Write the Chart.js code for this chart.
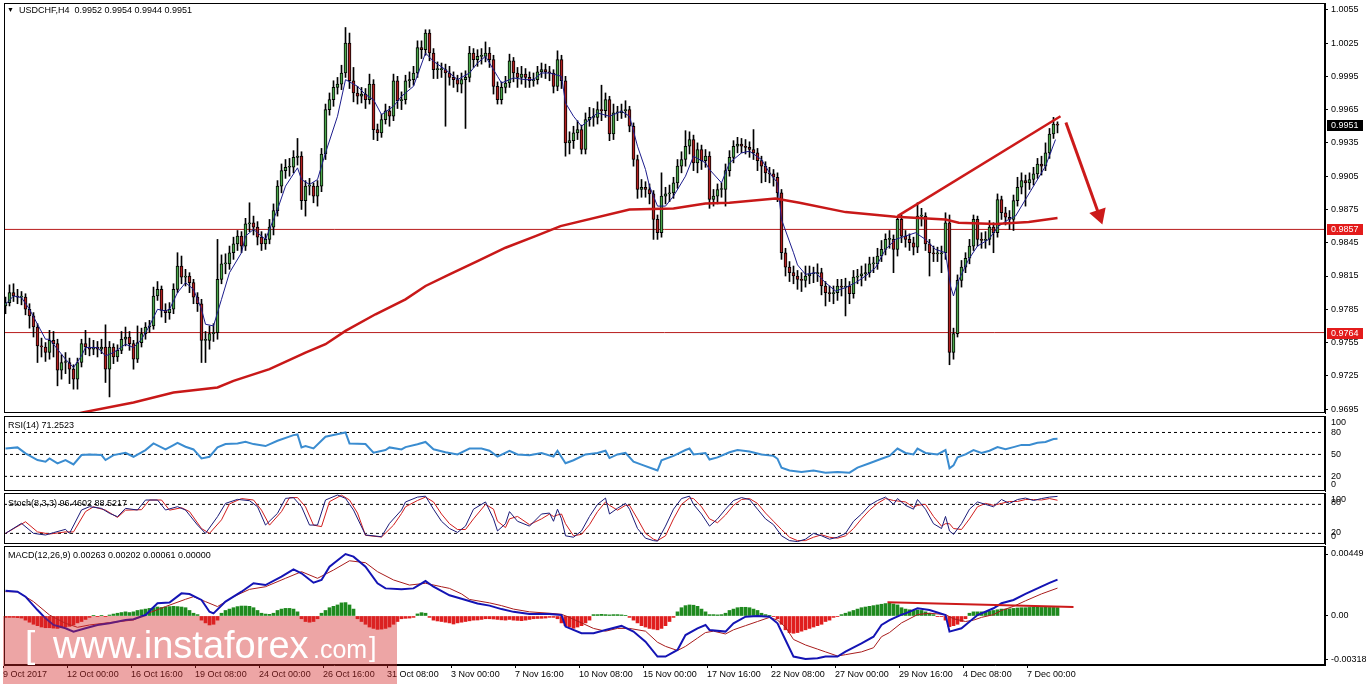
<!DOCTYPE html>
<html><head><meta charset="utf-8">
<script src="https://cdn.jsdelivr.net/npm/chart.js@4.4.1/dist/chart.umd.min.js"></script>
<style>
html,body{margin:0;padding:0;background:#fff}
body{position:relative;width:1366px;height:684px;overflow:hidden;font-family:'Liberation Sans',Arial,sans-serif}
canvas{position:absolute;left:0}
.t{position:absolute;left:8px;font-size:9px;line-height:11px;color:#000;white-space:pre}
#wm{position:absolute;left:3px;top:616px;width:394px;height:68px;background:rgba(212,40,40,0.42);overflow:hidden}
#wm span{position:absolute;color:#fff;line-height:1;white-space:pre;font-family:'Liberation Sans',Arial,sans-serif}
</style></head><body>
<canvas id="cMain" width="1366" height="414" style="top:0"></canvas>
<canvas id="cRsi" width="1366" height="78" style="top:414px"></canvas>
<canvas id="cSto" width="1366" height="53" style="top:492px"></canvas>
<canvas id="cMacd" width="1366" height="139" style="top:545px"></canvas>
<div class="t" style="top:4px;left:7px;font-size:7px">▼</div>
<div class="t" style="top:5px;left:19px">USDCHF,H4  0.9952 0.9954 0.9944 0.9951</div>
<div class="t" style="top:420px">RSI(14) 71.2523</div>
<div class="t" style="top:498px">Stoch(8,3,3) 96.4602 88.5217</div>
<div class="t" style="top:550px">MACD(12,26,9) 0.00263 0.00202 0.00061 0.00000</div>
<div id="wm">
<span style="left:22px;top:10px;font-size:37px">[</span>
<span style="left:50px;top:10px;font-size:38px">www.instaforex</span>
<span style="left:310px;top:21px;font-size:25px">.com</span>
<span style="left:366px;top:18px;font-size:27px">]</span>
</div>
<script>
// ---------------- DATA ----------------
const firstOpen = 0.9788;
const closes = [
.9791,.9800,.9797,.9796,.9796,.9785,.9779,.9769,.9752,.9751,
.9746,.9757,.9754,.9730,.9737,.9737,.9731,.9722,.9737,.9754,
.9751,.9749,.9751,.9749,.9751,.9731,.9751,.9742,.9748,.9758,
.9760,.9754,.9740,.9755,.9763,.9769,.9770,.9797,.9803,.9784,
.9782,.9785,.9803,.9824,.9814,.9815,.9809,.9796,.9790,.9757,
.9757,.9763,.9764,.9812,.9826,.9826,.9836,.9844,.9851,.9842,
.9862,.9863,.9859,.9850,.9844,.9848,.9859,.9874,.9896,.9910,
.9913,.9913,.9922,.9923,.9883,.9896,.9896,.9887,.9896,.9925,
.9965,.9974,.9985,.9988,.9998,1.0025,.9991,.9980,.9977,.9979,
.9974,.9988,.9947,.9944,.9956,.9964,.9959,.9991,.9973,.9974,
.9991,.9992,.9998,1.0021,1.0019,1.0034,1.0016,1.0001,1.0001,1.0001,
.9998,.9994,.9992,.9988,.9992,.9994,1.0016,1.0010,1.0013,1.0013,
1.0016,1.0010,.9986,.9974,.9985,.9989,1.0009,.9998,.9994,.9997,
.9994,.9991,.9992,.9999,1.0001,.9999,.9998,.9986,1.0010,.9991,
.9935,.9937,.9944,.9947,.9929,.9956,.9958,.9958,.9965,.9964,
.9974,.9943,.9962,.9962,.9964,.9965,.9950,.9920,.9893,.9895,
.9893,.9889,.9866,.9854,.9887,.9889,.9890,.9899,.9914,.9920,
.9932,.9938,.9917,.9929,.9919,.9923,.9884,.9887,.9893,.9893,
.9910,.9922,.9932,.9934,.9932,.9931,.9929,.9926,.9919,.9914,
.9908,.9907,.9904,.9890,.9836,.9823,.9818,.9815,.9812,.9811,
.9815,.9817,.9817,.9818,.9806,.9800,.9799,.9800,.9806,.9805,
.9806,.9799,.9814,.9815,.9817,.9818,.9826,.9826,.9833,.9839,
.9848,.9848,.9839,.9866,.9851,.9848,.9845,.9841,.9869,.9869,
.9844,.9836,.9835,.9835,.9836,.9863,.9746,.9763,.9811,.9823,
.9831,.9842,.9866,.9848,.9847,.9848,.9859,.9854,.9884,.9872,
.9868,.9866,.9883,.9895,.9901,.9899,.9902,.9907,.9916,.9914,
.9926,.9943,.9952,.9951];
const highs = [
.9796,.9807,.9808,.9803,.9801,.9799,.9790,.9782,.9772,.9759,
.9755,.9766,.9765,.9758,.9744,.9746,.9741,.9735,.9741,.9758,
.9766,.9759,.9757,.9756,.9758,.9771,.9756,.9754,.9753,.9765,
.9769,.9765,.9757,.9770,.9768,.9773,.9775,.9805,.9810,.9806,
.9790,.9791,.9808,.9836,.9833,.9821,.9818,.9812,.9800,.9794,
.9765,.9770,.9772,.9848,.9834,.9835,.9842,.9850,.9856,.9855,
.9867,.9881,.9869,.9864,.9855,.9853,.9866,.9880,.9901,.9916,
.9920,.9921,.9928,.9939,.9927,.9901,.9903,.9899,.9901,.9930,
.9970,.9980,.9991,.9994,1.0005,1.0039,1.0034,1.0003,.9986,.9985,
.9984,.9997,.9992,.9952,.9961,.9970,.9968,.9997,.9995,.9981,
.9996,.9999,1.0004,1.0027,1.0027,1.0037,1.0037,1.0020,1.0008,1.0007,
1.0006,1.0004,.9999,.9996,.9998,1.0000,1.0022,1.0020,1.0019,1.0020,
1.0026,1.0021,1.0014,.9990,.9990,.9995,1.0015,1.0012,1.0003,1.0004,
1.0002,.9999,.9998,1.0004,1.0007,1.0006,1.0004,1.0001,1.0018,1.0014,
.9995,.9945,.9950,.9955,.9951,.9962,.9967,.9966,.9972,.9987,
.9980,.9977,.9970,.9968,.9970,.9973,.9968,.9953,.9924,.9902,
.9900,.9898,.9892,.9870,.9908,.9895,.9897,.9904,.9920,.9927,
.9946,.9945,.9942,.9935,.9933,.9929,.9927,.9893,.9898,.9899,
.9916,.9928,.9937,.9940,.9939,.9938,.9936,.9947,.9930,.9923,
.9918,.9913,.9911,.9908,.9893,.9840,.9828,.9824,.9820,.9818,
.9824,.9824,.9823,.9826,.9822,.9810,.9806,.9806,.9812,.9812,
.9813,.9810,.9820,.9821,.9824,.9826,.9832,.9832,.9840,.9847,
.9853,.9856,.9852,.9869,.9870,.9856,.9853,.9850,.9881,.9876,
.9872,.9848,.9842,.9841,.9842,.9872,.9870,.9768,.9816,.9829,
.9836,.9848,.9870,.9869,.9854,.9855,.9865,.9863,.9889,.9887,
.9877,.9874,.9888,.9904,.9908,.9906,.9908,.9913,.9921,.9923,
.9935,.9948,.9958,.9954];
const lows = [
.9781,.9788,.9792,.9790,.9789,.9780,.9768,.9760,.9737,.9742,
.9738,.9740,.9742,.9716,.9722,.9727,.9718,.9713,.9713,.9733,
.9744,.9743,.9744,.9742,.9745,.9719,.9706,.9736,.9738,.9745,
.9752,.9748,.9731,.9737,.9751,.9758,.9764,.9767,.9793,.9778,
.9773,.9776,.9781,.9800,.9808,.9806,.9800,.9790,.9783,.9737,
.9737,.9749,.9756,.9758,.9808,.9817,.9821,.9830,.9838,.9836,
.9838,.9855,.9852,.9843,.9838,.9839,.9844,.9852,.9869,.9890,
.9903,.9905,.9908,.9915,.9875,.9869,.9888,.9881,.9878,.9891,
.9920,.9960,.9968,.9979,.9983,.9994,.9984,.9972,.9970,.9971,
.9966,.9970,.9938,.9937,.9940,.9952,.9950,.9955,.9966,.9965,
.9970,.9985,.9987,.9994,1.0011,1.0014,1.0009,.9993,.9993,.9994,
.9950,.9987,.9985,.9981,.9980,.9948,.9990,1.0003,1.0004,1.0006,
1.0008,1.0003,.9979,.9970,.9970,.9980,.9985,.9990,.9985,.9988,
.9985,.9985,.9986,.9988,.9994,.9993,.9991,.9980,.9982,.9984,
.9923,.9925,.9930,.9938,.9925,.9925,.9950,.9950,.9952,.9955,
.9958,.9937,.9938,.9955,.9957,.9958,.9945,.9914,.9885,.9886,
.9886,.9880,.9848,.9848,.9850,.9880,.9882,.9885,.9894,.9908,
.9914,.9925,.9910,.9908,.9911,.9913,.9876,.9878,.9880,.9886,
.9878,.9905,.9917,.9926,.9926,.9925,.9922,.9920,.9910,.9899,
.9900,.9899,.9896,.9882,.9830,.9815,.9810,.9808,.9803,.9801,
.9805,.9808,.9809,.9810,.9798,.9788,.9792,.9790,.9793,.9797,
.9779,.9790,.9795,.9808,.9806,.9811,.9814,.9818,.9821,.9828,
.9834,.9840,.9818,.9833,.9845,.9841,.9838,.9834,.9836,.9860,
.9838,.9815,.9828,.9828,.9818,.9830,.9735,.9740,.9760,.9805,
.9818,.9826,.9838,.9842,.9840,.9840,.9843,.9836,.9850,.9866,
.9861,.9857,.9856,.9878,.9889,.9878,.9893,.9897,.9903,.9906,
.9910,.9921,.9939,.9944];

// moving averages (candle index, price)
const maIdx = [0,2,4,6,8,10,11,13,15,17,19,20,23,25,27,30,32,34,36,38,40,41,43,45,47,49,50,52,54,56,59,60,62,65,
 68,70,73,74,76,78,80,83,85,88,90,92,94,97,99,102,105,107,110,113,116,118,120,123,124,127,130,132,
 134,136,139,140,142,144,146,148,151,154,156,158,160,161,163,165,167,170,172,175,176,179,181,184,186,189,191,193,194,197,
 198,200,202.5,205,207.5,210,212.5,215,217.5,220,222.5,225,227.5,230,232.5,235,236.25,237,238,240.8,243,245.8,248.3,250.8,252.5,255,257.5,260,262.5];
const maVal = [.97895,.9797,.97955,.9785,.97715,.9758,.9758,.9749,.9740,.97325,.9743,.97505,.97505,.9743,.9746,.97535,.97505,.9758,.9770,.9785,.97835,.9785,.9800,.9809,.9803,.9785,.97715,.9770,.9794,.9818,.9836,.9851,.9857,.9848,
 .9875,.9896,.99125,.9902,.98975,.9902,.9926,.9959,.9992,.9986,.99785,.9974,.99605,.9968,.9977,.9986,1.0016,1.00085,1.0001,.9992,.9998,1.0007,1.0013,.9995,.9989,.99935,.9992,.9992,
 .9998,.9998,.9995,.9971,.9959,.9950,.9956,.9962,.9959,.99635,.9959,.9932,.9911,.9896,.9878,.9878,.9887,.9905,.9923,.9917,.9911,.9899,.9917,.9926,.99275,.9920,.9908,.9899,.9866,.9836,
 .9825,.98165,.9818,.9809,.98015,.98045,.9809,.9815,.98225,.9839,.9848,.9851,.9854,.9848,.9839,.9836,.9806,.9797,.9809,.9830,.9842,.9848,.9860,.9866,.9869,.9884,.9899,.9914,.9938];
const ma200Idx = [17,19.25,32,42,53,57,66,75,80,85,92.5,100,105,111,118,125,132.5,138.75,156,167,175,181,192.5,198.5,210,222.5,235,238.3,247.5,255.8,263];
const ma200Val = [.9690,.9692,.9701,.9710,.97145,.97205,.9731,.9746,.97535,.97655,.97805,.9794,.9806,.98165,.98285,.98405,.9851,.9860,.9875,.98759,.98804,.9881,.98849,.9881,.98726,.98684,.9866,.9863,.98618,.98636,.98672];
const priceLevels = [0.9857, 0.9764];
const trendIdx = [223, 263.75], trendVal = [0.9869, 0.9959];
const arrowIdx = [265.1, 273.4], arrowVal = [0.99533, 0.9870];
const priceTicks = [0.9695,0.9725,0.9755,0.9785,0.9815,0.9845,0.9875,0.9905,0.9935,0.9965,0.9995,1.0025,1.0055];

// RSI(14)
const rsiIdx = [0,3,5,8,10,11,13,15,17,19,21,24,25,27,30,32,35,37,40,42,43,45,47,49,51,53,55,58,60,62,65,68,72,73,74,75,77,80,82,85,86,90,92,95,96,99,
 100,103,105,107,110,113,116,119,121,123,126,128,131,134,137,138,140,142,145,148,150,151,153,155,157,159,162,163,164,167,170,171,172,175,176,178,181,183,186,189,
 192,193,194,196,199,202,205,208,211,213,216,219,221,223,225,227,228,230,233,235,236,237,238,240,242,244,246,248,250,252,254,256,258,260,262,263];
const rsiVal = [58.2,59.6,51.4,42.3,40,44.6,37.8,42.3,36.4,49.1,50,49.1,42.3,49.1,52.3,46.8,55.9,65,56.8,62.8,65.9,60.5,56.8,44.6,46.8,59.6,64.1,65,67.3,64.1,61.4,68.7,76.4,77.3,59.6,61.4,58.2,74.1,76.4,80,65,64.1,52.3,55.9,59.6,56.8,
 60,64,67,57,53,50,58,58,55,47,55,50,49,52,47,55,38,42,50,52,55,45,50,52,40,36,30,28,42,48,56,58,50,52,43,46,53,56,54,50,
 48,44,32,28,26,28,25,26,25,32,38,44,48,58,52,50,58,52,50,56,31,35,46,50,56,52,55,60,57,60,63,63,66,67,71,71.25];
const rsiLevels = [20, 50, 80];

// Stochastic(8,3,3)
const stoMainIdx = [0,4,7,10,12,15,16,19,21,24,26,28,30,33,35,38,40,43,45,48,50,53,55,58,61,63,65,68,70,72,74,76,78,80,83,85,87,90,94,96,99,
 100,103,105,107,109,111,113,115,117,120,122,123,125,126,128,131,134,136,137,138,139,140,142,144,146,148,150,151,153,155,156,158,160,162,163,165,167,169,171,172,
 174,176,178,180,182,184,186,188,190,192,194,196,198,200,202,204,206,208,210,212,214,216,218,220,222,223,225,227,228,230,232,234,235,236,237,239,241,243,245,247,249,251,253,255,257,259,261,263];
const stoMainVal = [20,40.7,20,16.6,21.5,28.3,20,68.3,75.2,71.7,61.4,54.5,71.7,68.3,89,89,68.3,75.2,68.3,37.2,20,54.5,82,90.3,87.6,75.2,37.2,61.4,92.4,93.8,75.2,37.2,37.2,89,99.4,92.4,68.3,16.6,13.1,40.7,68.3,
 85,95,97,70,45,30,22,35,70,85,50,25,40,65,45,35,60,62,45,70,50,15,12,25,55,80,93,60,72,82,70,30,10,5,4,35,70,92,97,80,
 60,35,50,70,88,94,90,70,50,38,15,5,3,8,20,15,8,12,20,45,60,78,88,95,80,92,78,70,90,70,40,30,55,25,18,40,70,85,80,75,90,82,90,93,88,92,95,96.5];
const stoSigIdx = [0,5,8,11,15,17,20,22,25,28,30,34,36,39,41,44,46,49,51,54,56,59,62,64,66,69,71,73,75,77,79,81,84,86,88,90,94,97,99,
 100,103,105,107,109,111,113,115,117,120,122,123,125,126,128,131,134,136,137,138,139,140,142,144,146,148,150,151,153,155,156,158,160,162,163,165,167,169,171,172,
 174,176,178,180,182,184,186,188,190,192,194,196,198,200,202,204,206,208,210,212,214,216,218,220,222,223,225,227,228,230,232,234,235,236,237,239,241,243,245,247,249,251,253,255,257,259,261,263];
const stoSigVal = [20,44,23,18.6,23,23,65,75,68,53,68,69,89,89,68,73,65,30,20,48,81,92,89,68,37,65,94,94,75,37,34,85.6,99,89,62,16,12.4,37,61,
 75,88,95,85,60,40,28,28,50,80,70,45,32,50,55,38,50,60,55,58,60,40,15,18,38,65,85,78,68,78,78,50,20,8,5,15,50,80,93,92,
 75,50,42,58,78,90,92,82,62,45,28,12,5,5,12,17,12,10,15,30,50,68,82,92,88,87,85,74,78,80,55,35,40,40,30,28,50,75,82,78,82,86,86,90,90,89,92,88.5];
const stoLevels = [20, 80];

// MACD(12,26,9)
const macdIdx = [0,3,5,8,10,12,15,17,20,23,26,30,32,35,38,41,44,46,49,51,52,55,59,62,65,69,72,74,77,79,81,85,87,90,93,95,99,102,105,107,
 111,114,118,121,124,127,131,136,139,140,144,147,150,154,157,160,163,165,168,170,173,175,176,180,182,185,188,191,193,195,
 197,200,203,205,208,210,214,217,219,221,224,225,228,231,235,236,239,240,243,247,249,252,255,258,261,263];
const macdVal = [.00183,.00176,.0014,.00043,-.00017,-.00065,-.00089,-.00113,-.00089,-.00065,-.00053,-.00029,-.00024,.00007,.00092,.00097,.00164,.00159,.00116,.00031,
 .00019,.00104,.00176,.00237,.00224,.00285,.00338,.00309,.00241,.00261,.00357,.00449,.0043,.00357,.00237,.002,.00193,.002,.00253,.00212,
 .0015,.00125,.0009,.00075,.0005,.0003,.00014,.00014,.00007,-.00077,-.00125,-.00125,-.00101,-.00072,-.00113,-.00186,-.00294,-.00294,-.00246,-.00138,
 -.00089,-.00065,-.00101,-.00113,-.00053,-.00005,0,-.00005,-.00053,-.00174,-.00294,-.00311,-.00306,-.00294,-.00294,-.00258,-.00198,-.0015,-.00065,-.0003,
 .0001,.00019,.00056,.00043,.00007,-.00113,-.00089,-.00065,.00007,.00056,.00092,.00116,.0016,.002,.0024,.00263];
const sigIdx = [0,3,7,11,15,18,21,26,32,36,40,45,47,50,53,57,61,65,70,74,78,82,86,90,93,97,101,105,109,111,114,116,121,124,127,131,136,139,141,142,
 144,147,150,153,156,160,163,165,168,170,173,175,177,180,182,185,188,191,193,195,197,200,203,205,208,210,214,217,219,221,224,228,231,235,237,240,242,244,247,249,252,255,259,263];
const sigVal = [.00176,.00176,.00104,.00007,-.00053,-.00082,-.00065,-.00048,-.00029,.00024,.00068,.00121,.0014,.00104,.00068,.0014,.00193,.00212,.00273,.00321,
 .00273,.00333,.004,.00386,.00321,.00261,.00224,.00237,.00212,.002,.0016,.0012,.00095,.00075,.0005,.0003,.0002,.00012,-.0001,-.00024,
 -.0005,-.0009,-.0011,-.0009,-.0009,-.0011,-.0019,-.0022,-.0025,-.0022,-.0016,-.0012,-.0011,-.0013,-.001,-.0007,-.0004,-.0001,-.0003,-.0008,
 -.0017,-.0021,-.0024,-.0026,-.0029,-.0028,-.0026,-.0023,-.0015,-.0012,-.0005,.0001,.0002,.0001,-.0002,-.0004,-.0003,-.0001,.0001,.0004,.0007,.0011,.0016,.00202];
const histVal = [
-.0001,-.0001,-.0001,-.00012,-.00015,-.0003,-.00045,-.0006,-.0007,-.0008,
-.00085,-.00085,-.00088,-.0009,-.00085,-.0008,-.00075,-.00065,-.0005,-.0004,
-.00025,-.0001,.00005,-.00005,.00005,-.00005,.00007,.00014,.0002,.00025,
.0003,.00025,.0003,.0004,.00045,.0005,.00055,.0006,.00065,.00062,
.00065,.00068,.0007,.00068,.00065,.0006,.0004,.0002,.0001,-.0003,
-.0005,-.00065,-.0006,-.0003,.0002,.0004,.0005,.0006,.00068,.00072,
.00072,.0007,.0006,.0004,.0002,.00014,.00012,.0002,.0004,.0005,
.00055,.00055,.0005,.0003,-.0002,-.0004,-.00045,-.0004,-.0002,.0002,
.0004,.0006,.0007,.0008,.00095,.00097,.0008,.0005,-.0002,-.0004,
-.0006,-.0008,-.0009,-.00097,-.00095,-.0009,-.0008,-.0006,-.0004,-.0002,
-.00017,-.00015,-.0001,.00015,.00024,.0002,-.0001,-.0003,-.00036,-.0004,
-.00045,-.0005,-.00058,-.0005,-.00045,-.0004,-.00035,-.0003,-.00029,-.00025,
-.0002,-.0002,-.00022,-.00025,-.00028,-.0003,-.00025,-.0003,-.00032,-.00034,
-.0003,-.00025,-.0002,-.00018,-.00017,-.00015,-.0001,-.0001,-.0002,-.0005,
-.0007,-.0008,-.00089,-.0008,-.0007,-.0005,-.0003,.0001,.0001,.00012,
.0001,.00008,.0001,.0001,.00008,.00005,-.0001,-.0003,-.0005,-.0007,
-.0008,-.0009,-.00095,-.001,-.0009,-.0007,-.0004,-.0001,.0003,.0006,
.00075,.0008,.00078,.0007,.0005,.0003,.0001,.0001,.00008,.0001,
.0002,.0004,.0005,.0006,.00063,.00063,.0006,.0005,.0004,.0002,
.0001,.00002,-.00005,-.0002,-.0006,-.001,-.0012,-.00125,-.0012,-.0011,
-.001,-.0009,-.0008,-.0007,-.0006,-.0004,-.0003,-.0001,-.00005,.0001,
.0002,.0003,.0004,.0005,.0006,.00065,.0007,.00075,.0008,.00085,
.0009,.00092,.00087,.0008,.0006,.0005,.00045,.0004,.00043,.0004,
.0003,.0002,.0001,-.00005,-.00005,-.0003,-.00077,-.0007,-.0006,-.0004,
-.0002,.0002,.0003,.0003,.0003,.0003,.00035,.0004,.00045,.0005,
.0005,.00052,.00055,.00058,.0006,.0006,.00062,.00063,.00063,.00062,
.00063,.00062,.00062,.00061];
const macdLineIdx = [220.5, 267], macdLineVal = [0.001, 0.00065];
const macdTicks = [-0.00318, 0, 0.00449];

const xLabels = ["9 Oct 2017","12 Oct 00:00","16 Oct 16:00","19 Oct 08:00","24 Oct 00:00","26 Oct 16:00","31 Oct 08:00","3 Nov 00:00","7 Nov 16:00","10 Nov 08:00","15 Nov 00:00","17 Nov 16:00","22 Nov 08:00","27 Nov 00:00","29 Nov 16:00","4 Dec 08:00","7 Dec 00:00"];
const xLabelIdx = [0,16,32,48,64,80,96,112,128,144,160,176,192,208,224,240,256];

// ---------------- RENDER ----------------
const FF = "'Liberation Sans', Arial, sans-serif";
const TXT = {family: FF, size: 9};
const X_MIN = -0.375, X_MAX = 329.875;
const RED = '#cc1a1a';
Chart.defaults.font.family = FF;

const pts = (idx, vals) => idx.map((x, k) => ({x, y: vals[k]}));
const hline = (v, color, w, dash, order) => ({type:'line', data:[{x:X_MIN,y:v},{x:X_MAX,y:v}], borderColor:color, borderWidth:w, borderDash:dash||[], pointRadius:0, order});

Chart.register({
  id:'frame',
  afterDraw(chart){
    const a = chart.chartArea, c = chart.ctx;
    c.save(); c.strokeStyle = '#000'; c.lineWidth = 1;
    const l = Math.round(a.left)+0.5, t = Math.round(a.top)+0.5, r = Math.round(a.right)-0.5, b = Math.round(a.bottom)-0.5;
    c.strokeRect(l, t, r-l, b-t); c.restore();
  }
});
Chart.register({
  id:'sideLabels',
  afterDraw(chart, args, opts){
    if (!opts || !opts.items) return;
    const c = chart.ctx, y = chart.scales.y, x0 = chart.chartArea.right + 6;
    c.save(); c.font = '9px ' + FF; c.fillStyle = '#000'; c.textBaseline = 'middle'; c.textAlign = 'left';
    opts.items.forEach(it => c.fillText(String(it.v), x0, y.getPixelForValue(it.v) + it.dy));
    c.restore();
  }
});
Chart.register({
  id:'priceTags',
  afterDraw(chart, args, opts){
    if (!opts || !opts.items) return;
    const c = chart.ctx, y = chart.scales.y, x0 = chart.chartArea.right + 2;
    c.save(); c.font = '9px ' + FF; c.textBaseline = 'middle'; c.textAlign = 'left';
    opts.items.forEach(it => {
      const py = Math.round(y.getPixelForValue(it.v));
      c.fillStyle = it.bg; c.fillRect(x0, py - 5, 36, 11);
      c.fillStyle = '#fff'; c.fillText(it.v.toFixed(4), x0 + 4, py + 0.5);
    });
    c.restore();
  }
});

function yAxis(min, max, extra) {
  const ax = {
    type:'linear', position:'right', min, max, beginAtZero:false,
    afterFit(s){ s.width = 41; s.paddingTop = 0; s.paddingBottom = 0; },
    grid:{drawOnChartArea:false, drawTicks:true, tickLength:3, color:'#000'},
    border:{display:true, color:'#000'},
    ticks:{font:TXT, color:'#000', padding:3, autoSkip:false}
  };
  return Object.assign(ax, extra || {});
}
const xHidden = () => ({type:'linear', min:X_MIN, max:X_MAX, offset:false, display:false, grid:{offset:false}});
function baseOpts(pad, scales, plugins){
  return {responsive:false, maintainAspectRatio:false, animation:false, events:[], devicePixelRatio:1,
    layout:{padding:pad, autoPadding:false}, scales,
    plugins:Object.assign({legend:{display:false}, tooltip:{enabled:false}}, plugins||{})};
}

// Main price chart
const opens = closes.map((c, i) => i === 0 ? firstOpen : closes[i-1]);
const UP = '#4aa64a', DN = '#b32020';
new Chart(document.getElementById('cMain'), {
  type:'line',
  data:{datasets:[
    {type:'line', data:pts(trendIdx, trendVal), borderColor:RED, borderWidth:2.5, pointRadius:0, order:0},
    {type:'line', data:pts(arrowIdx, arrowVal), borderColor:RED, borderWidth:3, pointRadius:[0,7], pointStyle:'triangle', pointRotation:[0,161], pointBackgroundColor:RED, pointBorderColor:RED, order:0},
    {type:'line', data:pts(ma200Idx, ma200Val), borderColor:'#c81818', borderWidth:2.5, pointRadius:0, order:1},
    {type:'line', data:pts(maIdx, maVal), borderColor:'#1c1c8c', borderWidth:1, pointRadius:0, order:2},
    {type:'bar', data:closes.map((c,i)=>({x:i, y:[opens[i], c]})), backgroundColor:closes.map((c,i)=> c >= opens[i] ? UP : DN),
      borderColor:'#000', borderWidth:1, borderSkipped:false, barThickness:3, grouped:false, minBarLength:1, order:3},
    {type:'bar', data:closes.map((c,i)=>({x:i, y:[lows[i], highs[i]]})), backgroundColor:'#000', barThickness:1, grouped:false, order:4},
    ...priceLevels.map(v => hline(v, '#b81c1c', 1, null, 5))
  ]},
  options: baseOpts({left:4, top:3, right:0, bottom:1}, {
    x: xHidden(),
    y: yAxis(0.96915, 1.00611, {
      afterBuildTicks(s){ s.ticks = priceTicks.map(v => ({value:v})); },
      ticks:{font:TXT, color:'#000', padding:3, autoSkip:false, callback:v => Number(v).toFixed(4)}
    })
  }, {priceTags:{items:[{v:closes[closes.length-1], bg:'#000'}, {v:priceLevels[0], bg:'#e31b1b'}, {v:priceLevels[1], bg:'#e31b1b'}]}})
});

// RSI
new Chart(document.getElementById('cRsi'), {
  type:'line',
  data:{datasets:[
    {data:pts(rsiIdx, rsiVal), borderColor:'#3a8cd0', borderWidth:2, pointRadius:0, order:0},
    ...rsiLevels.map(v => hline(v, '#000', 1, [3,3], 1))
  ]},
  options: baseOpts({left:4, top:2, right:0, bottom:1}, {
    x: xHidden(),
    y: yAxis(0, 102.5, {ticks:{display:false}, grid:{drawOnChartArea:false, drawTicks:false}})
  }, {sideLabels:{items:[{v:100,dy:5},{v:80,dy:0.5},{v:50,dy:0.5},{v:20,dy:0},{v:0,dy:-6.5}]}})
});

// Stochastic
new Chart(document.getElementById('cSto'), {
  type:'line',
  data:{datasets:[
    {data:pts(stoMainIdx, stoMainVal), borderColor:'#1b1b78', borderWidth:1, pointRadius:0, order:0},
    {data:pts(stoSigIdx, stoSigVal), borderColor:'#d01c1c', borderWidth:1, pointRadius:0, order:1},
    ...stoLevels.map(v => hline(v, '#000', 1, [3,3], 2))
  ]},
  options: baseOpts({left:4, top:1, right:0, bottom:1}, {
    x: xHidden(),
    y: yAxis(-2, 103.5, {ticks:{display:false}, grid:{drawOnChartArea:false, drawTicks:false}})
  }, {sideLabels:{items:[{v:100,dy:5},{v:80,dy:-2},{v:20,dy:-0.5},{v:0,dy:-7}]}})
});

// MACD
new Chart(document.getElementById('cMacd'), {
  type:'line',
  data:{datasets:[
    {type:'line', data:pts(macdLineIdx, macdLineVal), borderColor:RED, borderWidth:2, pointRadius:0, order:0},
    {type:'line', data:pts(macdIdx, macdVal), borderColor:'#1414b4', borderWidth:2, pointRadius:0, order:1},
    {type:'line', data:pts(sigIdx, sigVal), borderColor:'#a81c1c', borderWidth:1, pointRadius:0, order:2},
    {type:'bar', data:histVal.map((v,i)=>({x:i, y:v})), backgroundColor:histVal.map(v => v >= 0 ? '#1f8a1f' : '#e01e1e'), barThickness:3, grouped:false, order:3}
  ]},
  options: baseOpts({left:4, top:1, right:0, bottom:0}, {
    x: {type:'linear', min:X_MIN, max:X_MAX, offset:false, position:'bottom',
      afterFit(s){ s.height = 19; s.paddingLeft = 0; s.paddingRight = 0; },
      afterBuildTicks(s){ s.ticks = xLabelIdx.map(i => ({value:i - 0.6})); },
      grid:{drawOnChartArea:false, drawTicks:true, tickLength:3, color:'#000', offset:false},
      border:{display:true, color:'#000'},
      ticks:{font:TXT, color:'#000', padding:1, align:'start', maxRotation:0, minRotation:0, autoSkip:false, callback:(v,k) => xLabels[k]}},
    y: yAxis(-0.00355, 0.00507, {
      afterBuildTicks(s){ s.ticks = macdTicks.map(v => ({value:v})); },
      ticks:{font:TXT, color:'#000', padding:3, autoSkip:false, callback:v => v === 0 ? '0.00' : Number(v).toFixed(5)}
    })
  })
});
</script>
</body></html>
